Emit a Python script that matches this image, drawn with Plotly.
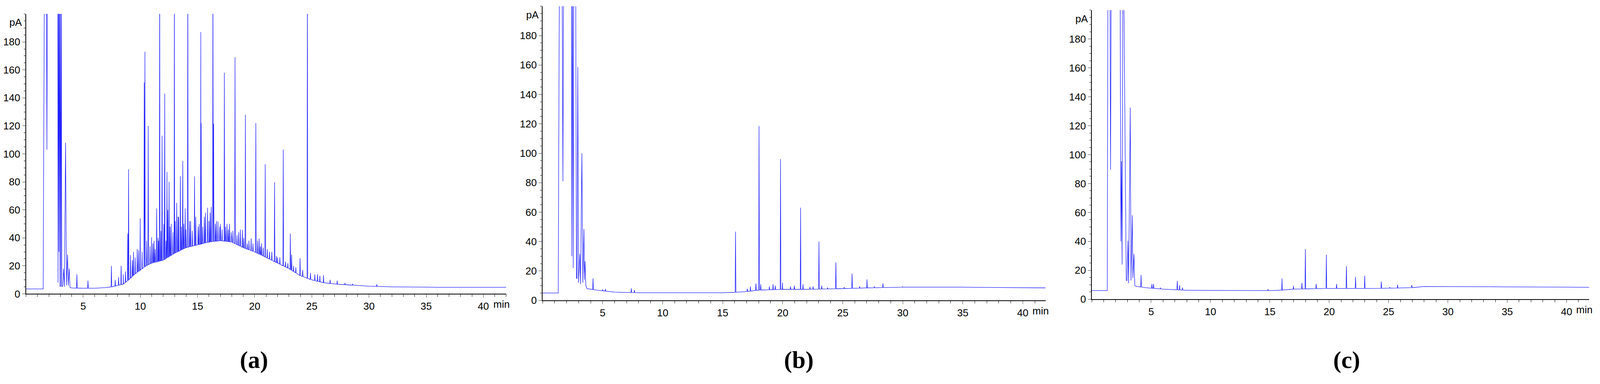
import numpy as np
import plotly.graph_objects as go

# ---- panel (a) ----
a_early_t = [0.0, 1.5, 1.61, 1.78, 1.83, 1.87, 2.78, 2.8, 2.84, 2.88, 2.92, 2.97, 3.0, 3.05, 3.09, 3.13, 3.17,
             3.22, 3.28, 3.36, 3.46, 3.54, 3.63, 3.7, 3.78, 3.85, 4.0]
a_early_v = [3.5, 3.5, 250, 250, 103, 250, 250, 8, 250, 30, 250, 5, 250, 5, 250, 6, 5,
             6, 18, 5, 108, 6, 28, 6, 18, 4.5, 4.2]
a_base_t = [4.0, 5.0, 6.0, 7.0, 7.5, 8.0, 8.5, 9.0, 9.5, 10.0, 10.5, 11.0, 12.0, 13.0, 14.0, 15.0, 16.0, 17.0,
            18.0, 19.0, 20.0, 21.0, 22.0, 23.0, 24.0, 25.0, 26.0, 27.0, 28.0, 30.0, 32.0, 36.0, 42.0]
a_base_v = [4.2, 4.0, 4.0, 4.5, 5, 6, 7, 10, 14, 17, 20, 22, 24, 29, 33, 35, 37, 38,
            37, 33, 30, 26, 22, 18, 13, 10, 8, 7, 6.5, 5.5, 5.0, 4.7, 4.7]
a_peak_t = [4.45, 5.42, 7.47, 8.32, 8.9, 8.97, 9.14, 9.73, 9.99, 10.34, 10.4, 10.69, 10.99, 11.43, 11.69, 11.9,
            12.13, 12.33, 12.51, 12.98, 13.18, 13.5, 13.71, 13.92, 14.15, 14.74, 15.29, 15.32, 15.88, 16.35,
            16.41, 16.79, 17.35, 17.58, 18.28, 18.93, 19.19, 19.69, 20.1, 20.39, 20.92, 21.74, 22.5, 23.12,
            23.23, 23.97, 24.61, 24.88, 25.26, 26.02, 26.6, 27.22, 27.9, 28.57, 30.68,
            7.8, 8.1, 8.5, 8.7, 9.3, 9.4, 9.55, 9.85, 10.15, 10.55, 10.85, 11.1, 11.2, 11.3, 11.55, 11.6, 11.8,
            12.05, 12.25, 12.4, 12.6, 12.7, 12.85, 13.05, 13.3, 13.35, 13.6, 13.8, 14.0, 14.3, 14.4, 14.55,
            14.85, 15.05, 15.15, 15.45, 15.6, 15.7, 16.0, 16.1, 16.2, 16.55, 16.65, 16.95, 17.0, 17.15, 17.45,
            17.7, 17.8, 17.95, 18.1, 18.45, 18.6, 18.75, 19.05, 19.35, 19.5, 19.85, 20.25, 20.5, 20.6, 20.75,
            21.1, 21.3, 21.5, 21.9, 22.0, 22.2, 22.7, 22.9, 23.4, 23.6, 24.2, 25.5, 25.7]
a_peak_h = [14, 9.5, 20, 20, 43, 89, 27.6, 32, 54, 151, 173, 120, 40.5, 61, 250, 113,
            143, 87, 80, 250, 65, 84, 95, 61, 250, 84, 187, 122, 61.5, 250,
            121.5, 51.7, 158, 50, 169, 45.7, 128, 39.6, 122, 39.6, 92.6, 79.7, 103, 43,
            28, 25.5, 250, 15, 13.8, 13.4, 10, 9.5, 7.8, 7.2, 6.8,
            10, 12, 14, 16, 24, 30, 26, 31, 30, 38, 34, 36, 38, 32, 40, 38, 45,
            50, 38, 60, 48, 50, 44, 52, 55, 55, 48, 50, 46, 52, 52, 45,
            55, 48, 50, 48, 55, 58, 52, 58, 62, 50, 52, 48, 50, 46, 48,
            46, 50, 44, 45, 42, 44, 46, 40, 36, 38, 36, 38, 34, 36, 33,
            32, 30, 30, 27, 26, 26, 23, 22, 20, 19, 17, 14, 13]

# ---- panel (b) ----
b_early_t = [0.0, 1.3, 1.4, 1.62, 1.69, 1.75, 2.4, 2.43, 2.49, 2.55, 2.6, 2.75, 2.82, 2.87, 2.93, 2.99, 3.1,
             3.16, 3.27, 3.35, 3.44, 3.49, 3.53, 3.6, 3.7]
b_early_v = [5, 5, 250, 250, 81, 250, 250, 30, 250, 22, 250, 250, 15, 15, 158.7, 12, 31.6,
             11, 100, 12, 48.5, 14, 26.7, 10, 8]
b_base_t = [3.7, 4.5, 6.0, 8.0, 15.0, 16.0, 17.0, 18.0, 20.0, 22.0, 25.0, 27.0, 30.0, 35.0, 41.9]
b_base_v = [8, 7, 5.6, 5.2, 5.2, 5.5, 6, 7, 7.5, 7.5, 8, 8.5, 9, 9, 8.5]
b_peak_t = [4.2, 5.0, 5.23, 7.39, 7.65, 16.07, 17.05, 17.31, 17.77, 18.03, 18.17, 18.89, 19.2, 19.38, 19.82,
            19.99, 20.65, 20.97, 21.49, 21.69, 22.27, 22.53, 23.02, 23.25, 23.74, 24.43, 25.12, 25.78, 26.41,
            27.02, 27.63, 28.35, 29.97]
b_peak_h = [15, 7.5, 7.8, 8.2, 7, 46.7, 8, 9.5, 11.5, 118.5, 11, 9.5, 11, 10, 96,
            12, 9.5, 10, 63, 11, 9.2, 9.5, 40, 10, 8.7, 26, 9, 18.2, 9.5,
            14.3, 9.5, 11.5, 9.5]

# ---- panel (c) ----
c_early_t = [0.0, 1.3, 1.36, 1.52, 1.58, 1.64, 2.38, 2.45, 2.5, 2.55, 2.62, 2.68, 2.9, 2.97, 3.04, 3.1, 3.24,
             3.3, 3.41, 3.46, 3.55, 3.62, 3.7]
c_early_v = [6, 6, 250, 250, 89.6, 250, 250, 40, 95.4, 24, 250, 250, 13, 13, 40.5, 11, 132.6,
             13, 58, 14.7, 31.3, 9.7, 9]
c_base_t = [3.7, 4.5, 6.0, 8.0, 15.0, 16.0, 17.0, 20.0, 24.0, 26.0, 27.0, 28.0, 30.0, 35.0, 41.9]
c_base_v = [9, 8, 7, 6.2, 6, 6.3, 7, 7.5, 7.5, 7.8, 8, 8.8, 8.7, 8.5, 8.3]
c_peak_t = [4.15, 5.06, 5.2, 5.78, 7.2, 7.4, 7.63, 14.85, 16.02, 16.99, 17.7, 17.99, 18.9, 19.76, 20.62,
            21.45, 22.22, 22.99, 23.7, 24.39, 25.1, 25.76, 26.95]
c_peak_h = [16.8, 10.5, 10.5, 8, 12.7, 9.7, 8, 7, 14.3, 9.3, 11.3, 34.7, 10.5, 30.8, 10.5,
            23, 15.5, 16.3, 7.7, 12.2, 8.3, 10, 9.7]

y_ticks = [0, 20, 40, 60, 80, 100, 120, 140, 160, 180]
x_ticks = [5, 10, 15, 20, 25, 30, 35, 40]
labels = ["(a)", "(b)", "(c)"]


def build(early_t, early_v, base_t, base_v, peak_t, peak_h, w=0.03):
    pts = list(zip(early_t, early_v)) + list(zip(base_t, base_v))
    for t, h in zip(peak_t, peak_h):
        foot = float(np.interp(t, base_t, base_v))
        pts += [(t - w, foot), (t, h), (t + w, foot)]
    pts.sort()
    t = np.array([p[0] for p in pts])
    v = np.clip([p[1] for p in pts], None, 230)
    return t, v


W, H = 4547, 982
panels = [
    (build(a_early_t, a_early_v, a_base_t, a_base_v, a_peak_t, a_peak_h), (62, 1433), (28, 755), 42.0, 713),
    (build(b_early_t, b_early_v, b_base_t, b_base_v, b_peak_t, b_peak_h), (1537, 2973), (8, 772), 41.9, 2268),
    (build(c_early_t, c_early_v, c_base_t, c_base_v, c_peak_t, c_peak_h), (3105, 4525), (18, 769), 41.9, 3833),
]

fig = go.Figure()
axfont = dict(family="Liberation Sans Narrow, Liberation Sans, Arial", size=26, color="black")
for i, ((t, v), (x0, x1), (ytop, ybot), xmax, capx) in enumerate(panels):
    n = "" if i == 0 else str(i + 1)
    fig.add_trace(go.Scatter(x=t, y=v, mode="lines", line=dict(color="#2020ff", width=1.3),
                             xaxis="x" + n, yaxis="y" + n, showlegend=False))
    fig.layout["xaxis" + n] = dict(domain=[x0 / W, x1 / W], range=[0, xmax], anchor="y" + n,
                                   tickvals=x_ticks, ticks="outside", ticklen=8, showline=True,
                                   linecolor="black", linewidth=1.5, showgrid=False, zeroline=False,
                                   tickfont=axfont, minor=dict(dtick=1, ticks="outside", ticklen=6,
                                                                tickcolor="black"))
    fig.layout["yaxis" + n] = dict(domain=[1 - ybot / H, 1 - ytop / H], range=[0, 200], anchor="x" + n,
                                   tickvals=y_ticks, ticks="outside", ticklen=8, showline=True,
                                   linecolor="black", linewidth=1.5, showgrid=False, zeroline=False,
                                   tickfont=axfont, minor=dict(dtick=5, ticks="outside", ticklen=4,
                                                                tickcolor="black"))
    fig.add_annotation(x=(x1 + 12) / W, y=1 - ybot / H - 0.01, xref="paper", yref="paper", text="min",
                       showarrow=False, xanchor="right", yanchor="top", font=axfont)
    fig.add_annotation(x=x0 / W - 0.002, y=1 - ytop / H - 0.005, xref="paper", yref="paper", text="pA",
                       showarrow=False, xanchor="right", yanchor="top", font=axfont)
    fig.add_annotation(x=capx / W, y=1 - 927 / H, xref="paper", yref="paper", text="<b>" + labels[i] + "</b>",
                       showarrow=False, xanchor="center", yanchor="middle",
                       font=dict(family="Liberation Serif", size=62, color="black"))

fig.update_layout(autosize=True, margin=dict(l=0, r=0, t=0, b=0),
                  plot_bgcolor="white", paper_bgcolor="white")
fig.write_html("out.html", default_width="100%", default_height="100vh",
               config={"responsive": True})
